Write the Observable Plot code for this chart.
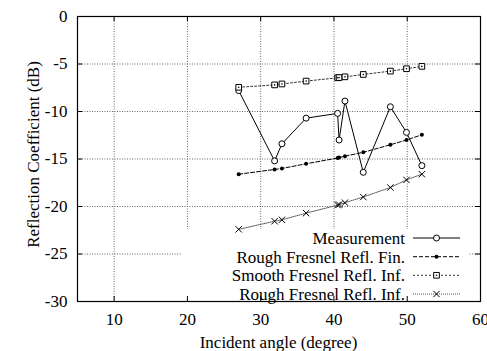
<!DOCTYPE html>
<html><head><meta charset="utf-8">
<script src="https://cdn.jsdelivr.net/npm/d3@7"></script>
<script src="https://cdn.jsdelivr.net/npm/@observablehq/plot@0.6"></script>
<style>
body{margin:0;background:#fff;}
#chart svg, #chart svg text{font-family:'Liberation Serif', serif !important;}
</style></head><body><div id="chart"></div>
<script>
// ---- data ----
const angles      = [27, 31.9, 32.9, 36.2, 40.5, 40.7, 41.5, 44, 47.7, 49.9, 52];
const measurement = [-7.8, -15.2, -13.4, -10.7, -10.2, -13.0, -8.9, -16.4, -9.5, -12.2, -15.7];
const roughFin    = [-16.6, -16.1, -16.0, -15.5, -14.9, -14.85, -14.7, -14.3, -13.5, -13.0, -12.45];
const smoothInf   = [-7.45, -7.2, -7.1, -6.8, -6.45, -6.43, -6.35, -6.1, -5.75, -5.5, -5.25];
const roughInf    = [-22.4, -21.55, -21.4, -20.7, -19.85, -19.8, -19.6, -19.0, -18.0, -17.2, -16.6];
const seriesNames = ["Measurement", "Rough Fresnel Refl. Fin.", "Smooth Fresnel Refl. Inf.", "Rough Fresnel Refl. Inf."];
const xTicks = [10, 20, 30, 40, 50, 60];
const yTicks = [0, -5, -10, -15, -20, -25, -30];
const xGrid = [10, 20, 30, 40, 50];
const yGrid = [-5, -10, -15, -20, -25];
const xLabel = "Incident angle (degree)";
const yLabel = "Reflection Coefficient (dB)";

// ---- styles ----
const FONT = "'Liberation Serif', serif";
const FS = 17;
const W = 487, H = 351, mL = 77, mR = 7, mT = 16, mB = 50;
const styles = [
  {dash: null,  lineStroke: "#000", symbol: "circle", r: 3,   fill: "white", stroke: "#000"},
  {dash: "4,2", lineStroke: "#000", symbol: "circle", r: 2,   fill: "#000",  stroke: "none"},
  {dash: "2,2", lineStroke: "#333", symbol: "square", r: 3.2, fill: "white", stroke: "#000"},
  {dash: "1,1", lineStroke: "#555", symbol: "times",  r: 3,   fill: "none",  stroke: "#000"}
];
const seriesValues = [measurement, roughFin, smoothInf, roughInf];
const rowsFor = s => seriesValues[s].map((v, i) => ({x: angles[i], y: v}));

const marks = [
  Plot.gridX(xGrid, {stroke: "#666", strokeOpacity: 1, strokeDasharray: "1,1.5"}),
  Plot.gridY(yGrid, {stroke: "#666", strokeOpacity: 1, strokeDasharray: "1,1.5"})
];
seriesValues.forEach((_, s) => {
  const st = styles[s];
  marks.push(Plot.line(rowsFor(s), {x: "x", y: "y", stroke: st.lineStroke, strokeWidth: 1, strokeDasharray: st.dash}));
});
seriesValues.forEach((_, s) => {
  const st = styles[s];
  marks.push(Plot.dot(rowsFor(s), {x: "x", y: "y", symbol: st.symbol, r: st.r, fill: st.fill, stroke: st.stroke, strokeWidth: 1}));
  if (st.symbol === "square") marks.push(Plot.dot(rowsFor(s), {x: "x", y: "y", r: 0.8, fill: "#000"}));
});
const iw = W - mL - mR, ih = H - mT - mB, tl = 5;
marks.push(
  Plot.tickX(xTicks, {x: d => d, insetTop: ih - tl, stroke: "#000"}),
  Plot.tickX(xTicks, {x: d => d, insetBottom: ih - tl, stroke: "#000"}),
  Plot.tickY(yTicks, {y: d => d, insetRight: iw - tl, stroke: "#000"}),
  Plot.tickY(yTicks, {y: d => d, insetLeft: iw - tl, stroke: "#000"}),
  Plot.axisX(xTicks, {tickSize: 0, tickPadding: 11, fontSize: FS, label: null, tickFormat: d => String(d)}),
  Plot.axisY(yTicks, {tickSize: 0, tickPadding: 10, fontSize: FS, label: null, tickFormat: d => String(d)}),
  Plot.frame({stroke: "#000", strokeWidth: 1.2})
);

const chart = Plot.plot({
  width: W, height: H,
  marginLeft: mL, marginRight: mR, marginTop: mT, marginBottom: mB,
  style: {fontSize: FS + "px", color: "#000", background: "#fff"},
  x: {domain: [5, 60]},
  y: {domain: [-30, 0]},
  marks
});
document.getElementById("chart").append(chart);

// ---- legend & titles ----
const svg = d3.select(chart);
const box = {x0: 182, x1: 468, y0: 229, y1: 300};
svg.insert("rect", 'g[aria-label="line"]')
  .attr("x", box.x0).attr("y", box.y0).attr("width", box.x1 - box.x0).attr("height", box.y1 - box.y0)
  .attr("fill", "#fff");
const rowY = [238, 256.7, 275.3, 294];
const lg = svg.append("g").attr("font-size", FS).attr("fill", "#000");
seriesNames.forEach((name, s) => {
  const st = styles[s], yy = rowY[s];
  lg.append("text").attr("x", 405).attr("y", yy).attr("dy", "0.35em").attr("text-anchor", "end").text(name);
  lg.append("line").attr("x1", 413).attr("x2", 460).attr("y1", yy).attr("y2", yy)
    .attr("stroke", st.lineStroke).attr("stroke-dasharray", st.dash);
  const symMap = {circle: d3.symbolCircle, square: d3.symbolSquare, times: d3.symbolTimes};
  lg.append("path").attr("transform", `translate(436.5,${yy})`)
    .attr("d", d3.symbol(symMap[st.symbol], Math.PI * st.r * st.r)())
    .attr("fill", st.fill).attr("stroke", st.stroke);
  if (st.symbol === "square") lg.append("circle").attr("cx", 436.5).attr("cy", yy).attr("r", 0.8).attr("fill", "#000");
});
svg.append("text").attr("x", (mL + W - mR) / 2).attr("y", 342).attr("dy", "0.35em")
  .attr("text-anchor", "middle").attr("font-size", FS).attr("fill", "#000").text(xLabel);
svg.append("text").attr("transform", `translate(33,${(mT + H - mB) / 2 - 4}) rotate(-90)`).attr("dy", "0.35em")
  .attr("text-anchor", "middle").attr("font-size", FS).attr("fill", "#000").text(yLabel);
svg.style("font-family", FONT);
svg.selectAll("text").attr("font-family", FONT).style("font-family", FONT);
</script>
</body></html>
